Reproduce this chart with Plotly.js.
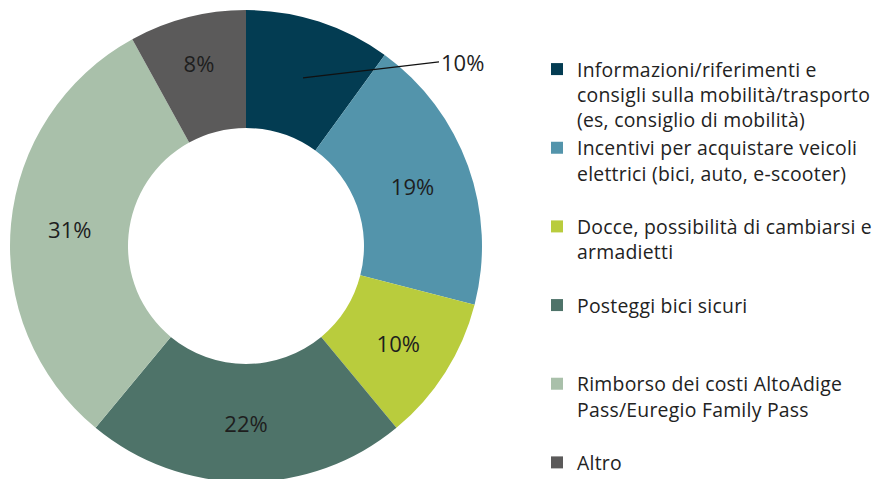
<!DOCTYPE html>
<html><head><meta charset="utf-8">
<script src="https://cdn.plot.ly/plotly-3.0.1.min.js"></script>
<style>
html,body{margin:0;padding:0;background:#fff;overflow:hidden;width:880px;height:479px}
.legendtext{letter-spacing:0.25px}
</style>
</head><body><div id="chart" style="width:1000px;height:490px"></div>
<script>
const categories = [
  "Informazioni/riferimenti e<br>consigli sulla mobilità/trasporto<br>(es, consiglio di mobilità)",
  "Incentivi per acquistare veicoli<br>elettrici (bici, auto, e-scooter)<br> ",
  "Docce, possibilità di cambiarsi e<br>armadietti<br> ",
  "Posteggi bici sicuri<br> <br> ",
  "Rimborso dei costi AltoAdige<br>Pass/Euregio Family Pass<br> ",
  "Altro"
];
const values = [10, 19, 10, 22, 31, 8];
const colors = ["#033c52", "#5394ab", "#b9cc3d", "#4e7369", "#a9c0aa", "#5b5a5a"];

const labelsText = values.map((v, i) => i === 0 ? "" : v + "%");

const trace = {
  type: "pie",
  labels: categories,
  values: values,
  hole: 0.5,
  sort: false,
  direction: "clockwise",
  rotation: 0,
  marker: {colors: colors, line: {width: 0}},
  text: labelsText,
  textinfo: "text",
  textposition: "inside",
  insidetextorientation: "horizontal",
  textfont: {family: "Open Sans, sans-serif", size: 22, color: "#1e1e1e"},
  domain: {x: [0.010, 0.482], y: [0.01633, 0.97959]},
  hoverinfo: "label+percent"
};

const layout = {
  width: 1000, height: 490,
  margin: {l: 0, r: 0, t: 0, b: 0},
  paper_bgcolor: "#fff",
  showlegend: true,
  legend: {
    x: 0.537, y: 0.898, xanchor: "left", yanchor: "top",
    font: {family: "Open Sans, sans-serif", size: 19.4, color: "#222"},
    valign: "top",
    itemwidth: 30,
    traceorder: "normal"
  },
  annotations: [{
    xref: "paper", yref: "paper",
    x: 0.303, y: 0.841,
    ax: 136, ay: -16,
    text: values[0] + "%",
    showarrow: true, arrowhead: 0, arrowwidth: 1.2, arrowcolor: "#111",
    xanchor: "left",
    font: {family: "Open Sans, sans-serif", size: 22, color: "#1e1e1e"}
  }]
};

Plotly.newPlot("chart", [trace], layout, {displayModeBar: false, staticPlot: true});
</script></body></html>
